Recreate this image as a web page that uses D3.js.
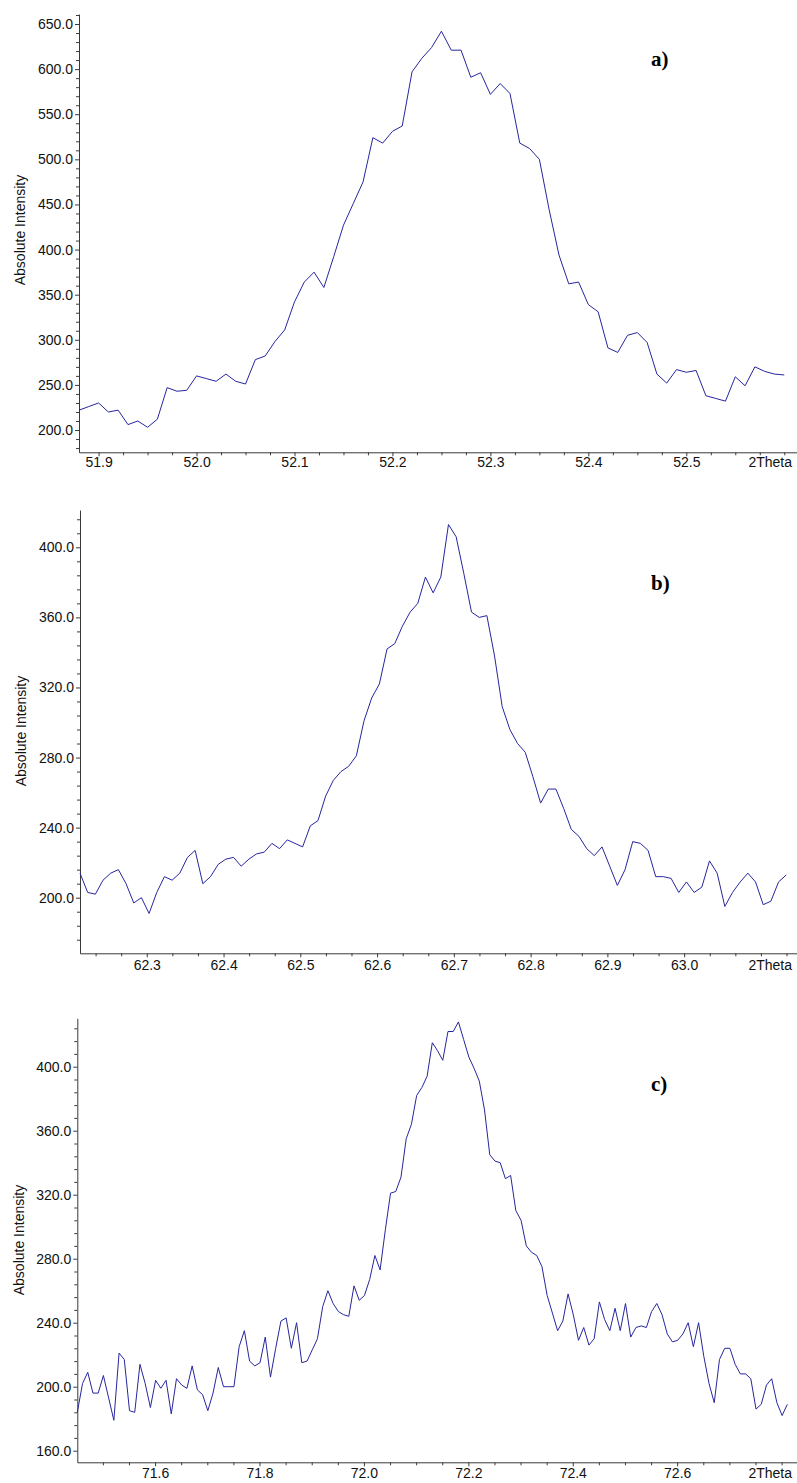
<!DOCTYPE html>
<html>
<head>
<meta charset="utf-8">
<script src="https://cdn.jsdelivr.net/npm/d3@7"></script>
<style>
  body { margin: 0; background: #fff; }
  svg { display: block; }
</style>
</head>
<body>
<svg id="chart" width="797" height="1483"></svg>
<script>
// ---- Scan a) : 2Theta 51.88 .. 52.60, step 0.01 ----
const thetaStartA = 51.88;
const thetaStepA = 0.01;
const intensityA = [
  222, 226, 230, 220, 222, 206, 210, 203, 212, 247,
  243, 244, 260, 257, 254, 262, 254, 251, 278, 282,
  298, 311, 342, 364, 375, 358, 392, 427, 451, 475,
  524, 518, 531, 537, 597, 612, 624, 642, 621, 621,
  591, 596, 572, 584, 573, 518, 512, 500, 444, 394,
  362, 364, 339, 331, 291, 286, 305, 308, 297, 262,
  252, 267, 264, 266, 238, 235, 232, 259, 249, 270,
  265, 262, 261
];
const xTicksA = [51.9, 52.0, 52.1, 52.2, 52.3, 52.4, 52.5];
const yTicksA = [200, 250, 300, 350, 400, 450, 500, 550, 600, 650];

// ---- Scan b) : 2Theta 62.213 .. 63.133, step 0.01 ----
const thetaStartB = 62.213;
const thetaStepB = 0.01;
const intensityB = [
  214, 203, 202, 210, 214, 216, 208, 197, 200, 191,
  203, 212, 210, 214, 223, 227, 208, 212, 219, 222,
  223, 218, 222, 225, 226, 231, 228, 233, 231, 229,
  241, 244, 258, 267, 272, 275, 281, 301, 314, 322,
  342, 345, 355, 363, 368, 383, 374, 383, 413, 406,
  385, 363, 360, 361, 338, 309, 296, 288, 283, 269,
  254, 262, 262, 251, 239, 235, 228, 224, 229, 218,
  207, 216, 232, 231, 227, 212, 212, 211, 203, 209,
  203, 206, 221, 214, 195, 203, 209, 214, 209, 196,
  198, 209, 213
];
const xTicksB = [62.3, 62.4, 62.5, 62.6, 62.7, 62.8, 62.9, 63.0];
const yTicksB = [200, 240, 280, 320, 360, 400];

// ---- Scan c) : 2Theta 71.451 .. 72.811, step 0.01 ----
const thetaStartC = 71.451;
const thetaStepC = 0.01;
const intensityC = [
  184, 202, 209, 196, 196, 207, 193, 179, 221, 217,
  185, 184, 214, 202, 187, 204, 199, 204, 183, 205,
  201, 199, 213, 198, 195, 185, 196, 212, 200, 200,
  200, 225, 235, 216, 213, 215, 231, 206, 224, 241,
  243, 224, 240, 215, 216, 223, 230, 250, 260, 252,
  247, 245, 244, 263, 254, 257, 267, 282, 273, 298,
  321, 322, 331, 355, 364, 382, 387, 394, 415, 410,
  404, 422, 422, 428, 417, 406, 399, 391, 373, 345,
  341, 340, 330, 332, 310, 304, 288, 284, 282, 275,
  257, 246, 235, 241, 258, 245, 229, 237, 226, 230,
  253, 242, 235, 249, 235, 252, 231, 237, 238, 237,
  247, 252, 245, 233, 228, 229, 233, 240, 225, 240,
  219, 202, 190, 217, 224, 224, 214, 208, 208, 205,
  186, 189, 201, 205, 190, 182, 189
];
const xTicksC = [71.6, 71.8, 72.0, 72.2, 72.4, 72.6];
const yTicksC = [160, 200, 240, 280, 320, 360, 400];

const panelLetters = ["a)", "b)", "c)"];
const xAxisName = "2Theta";
const yAxisName = "Absolute Intensity";

// ---- Layout of the three stacked plots ----
const panels = [
  {
    start: thetaStartA, step: thetaStepA, values: intensityA,
    xTicks: xTicksA, yTicks: yTicksA,
    left: 79, right: 797, top: 14, bottom: 452.3,
    xDomain: [51.88, 52.613], yDomain: [175.3, 661.1],
    xMinorStep: 0.025, yMinorStep: 10,
    xLabelOffset: 15, titleX: 25, titleY: 230,
    letterX: 651, letterY: 66
  },
  {
    start: thetaStartB, step: thetaStepB, values: intensityB,
    xTicks: xTicksB, yTicks: yTicksB,
    left: 80, right: 797, top: 510, bottom: 953.3,
    xDomain: [62.213, 63.147], yDomain: [168.26, 421.29],
    xMinorStep: 0.1 / 3, yMinorStep: 8,
    xLabelOffset: 16.5, titleX: 26, titleY: 731,
    letterX: 651, letterY: 590
  },
  {
    start: thetaStartC, step: thetaStepC, values: intensityC,
    xTicks: xTicksC, yTicks: yTicksC,
    left: 77.3, right: 797, top: 1018.3, bottom: 1462.3,
    xDomain: [71.451, 72.8295], yDomain: [152.75, 430.25],
    xMinorStep: 0.05, yMinorStep: 8,
    xLabelOffset: 15.5, titleX: 23.5, titleY: 1240,
    letterX: 651, letterY: 1091
  }
];

const svg = d3.select("#chart");
const axisColor = "#3a3a3a";
const lineColor = "#26269e";
const tickFont = "'Liberation Sans', Arial, sans-serif";

function range(a, b, s) {
  const out = [];
  const n = Math.floor((b - a) / s + 1e-9);
  for (let i = 0; i <= n; i++) out.push(+(a + i * s).toFixed(6));
  return out;
}

panels.forEach((p, k) => {
  const x = d3.scaleLinear().domain(p.xDomain).range([p.left, p.right]);
  const y = d3.scaleLinear().domain(p.yDomain).range([p.bottom, p.top]);
  const g = svg.append("g");

  // minor ticks
  const yMinor = range(Math.ceil(p.yDomain[0] / p.yMinorStep - 1e-6) * p.yMinorStep, p.yDomain[1], p.yMinorStep)
    .filter(v => !p.yTicks.some(t => Math.abs(t - v) < 1e-6));
  const xMinor = range(Math.ceil(p.xDomain[0] / p.xMinorStep - 1e-6) * p.xMinorStep, p.xDomain[1], p.xMinorStep)
    .filter(v => !p.xTicks.some(t => Math.abs(t - v) < 1e-6));

  g.append("g")
    .attr("transform", `translate(${p.left},0)`)
    .call(d3.axisLeft(y).tickValues(yMinor).tickSize(3).tickSizeOuter(0).tickFormat(""))
    .call(s => s.select(".domain").remove())
    .call(s => s.selectAll("line").attr("stroke", axisColor));

  g.append("g")
    .attr("transform", `translate(0,${p.bottom})`)
    .call(d3.axisBottom(x).tickValues(xMinor).tickSize(3).tickSizeOuter(0).tickFormat(""))
    .call(s => s.select(".domain").remove())
    .call(s => s.selectAll("line").attr("stroke", axisColor));

  // major y axis
  g.append("g")
    .attr("transform", `translate(${p.left},0)`)
    .call(d3.axisLeft(y).tickValues(p.yTicks).tickSize(4).tickPadding(2).tickSizeOuter(0).tickFormat(d3.format(".1f")))
    .call(s => s.select(".domain").attr("stroke", axisColor))
    .call(s => s.selectAll("line").attr("stroke", axisColor))
    .call(s => s.selectAll("text").attr("fill", "#111").style("font-family", tickFont).style("font-size", "14px"));

  // major x axis
  g.append("g")
    .attr("transform", `translate(0,${p.bottom})`)
    .call(d3.axisBottom(x).tickValues(p.xTicks).tickSize(4).tickSizeOuter(0).tickFormat(d3.format(".1f")))
    .call(s => s.select(".domain").attr("stroke", axisColor))
    .call(s => s.selectAll("line").attr("stroke", axisColor))
    .call(s => s.selectAll("text")
      .attr("y", p.xLabelOffset).attr("dy", null)
      .attr("fill", "#111").style("font-family", tickFont).style("font-size", "14px"));

  g.append("text")
    .attr("x", 792).attr("y", p.bottom + p.xLabelOffset)
    .attr("text-anchor", "end")
    .attr("fill", "#111")
    .style("font-family", tickFont).style("font-size", "14px")
    .text(xAxisName);

  // axis title
  g.append("text")
    .attr("transform", `translate(${p.titleX},${p.titleY}) rotate(-90)`)
    .attr("text-anchor", "middle")
    .attr("fill", "#111")
    .style("font-family", tickFont).style("font-size", "14px")
    .text(yAxisName);

  // intensity trace
  const line = d3.line()
    .x((d, i) => x(p.start + i * p.step))
    .y(d => y(d));
  g.append("path")
    .datum(p.values)
    .attr("fill", "none")
    .attr("stroke", lineColor)
    .attr("stroke-width", 1)
    .attr("stroke-linejoin", "miter")
    .attr("d", line);

  // panel letter
  g.append("text")
    .attr("x", p.letterX).attr("y", p.letterY)
    .attr("fill", "#000")
    .style("font-family", "'Liberation Serif', 'Times New Roman', serif")
    .style("font-weight", "bold")
    .style("font-size", "21px")
    .text(panelLetters[k]);
});
</script>
</body>
</html>
